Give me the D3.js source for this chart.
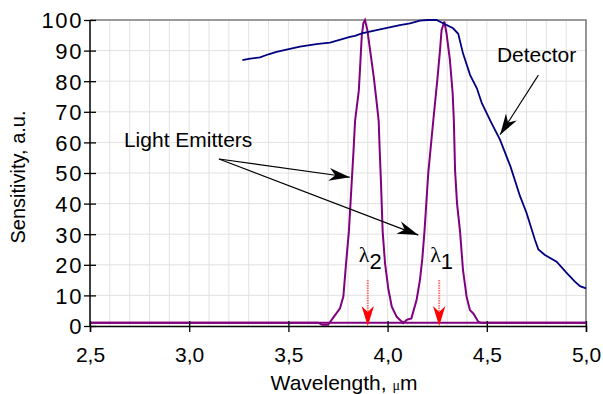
<!DOCTYPE html>
<html>
<head>
<meta charset="utf-8">
<script src="https://cdn.jsdelivr.net/npm/d3@7"></script>
<style>
  html, body { margin: 0; padding: 0; background: #fff; }
  svg { display: block; font-family: "Liberation Sans", Arial, sans-serif; }
</style>
</head>
<body>
<svg id="chart" width="603" height="394"></svg>
<script>
// ── data (wavelength in µm, sensitivity in a.u.) ──
const xTicks = [2.5, 3.0, 3.5, 4.0, 4.5, 5.0];
const yTicks = [0, 10, 20, 30, 40, 50, 60, 70, 80, 90, 100];

const detector = [
  [3.268, 86.9], [3.30, 87.3], [3.357, 87.8], [3.40, 88.8], [3.44, 89.6],
  [3.558, 91.3], [3.65, 92.2], [3.71, 92.6], [3.81, 94.5], [3.836, 94.8],
  [3.87, 95.6], [3.95, 96.8], [4.062, 98.3], [4.113, 98.9], [4.163, 99.8],
  [4.20, 100], [4.247, 100], [4.272, 99.2], [4.33, 97.3], [4.356, 95.5],
  [4.38, 89.1], [4.416, 82], [4.45, 77.7], [4.475, 72.8], [4.52, 66.8],
  [4.567, 60.8], [4.62, 52], [4.667, 42.5], [4.70, 37], [4.743, 28.1],
  [4.76, 25], [4.793, 23.2], [4.852, 21], [4.90, 17.5], [4.944, 14.5],
  [4.97, 13], [5.0, 12.3]
];

// emitter at lambda2
const emitter2 = [
  [2.5, 1.1], [3.65, 1.1], [3.67, 0.4], [3.70, 0.4], [3.727, 2.8],
  [3.76, 5.8], [3.777, 9.6], [3.79, 20], [3.805, 31], [3.82, 48],
  [3.828, 57], [3.836, 67], [3.855, 77], [3.861, 84], [3.865, 89],
  [3.87, 95], [3.878, 99], [3.886, 100], [3.898, 96.7], [3.91, 91],
  [3.93, 81.5], [3.945, 73], [3.955, 67], [3.961, 56], [3.966, 48],
  [3.975, 31], [3.987, 20.5], [4.004, 12], [4.021, 6.3], [4.046, 3.0],
  [4.07, 1.5], [4.09, 1.1], [5.0, 1.1]
];

// emitter at lambda1
const emitter1 = [
  [2.5, 1.1], [4.06, 1.1], [4.08, 0.9], [4.096, 2.0], [4.12, 2.5],
  [4.146, 8.5], [4.163, 15], [4.175, 22], [4.186, 31], [4.196, 41],
  [4.205, 50], [4.23, 67], [4.25, 80], [4.264, 90], [4.272, 96.7],
  [4.286, 99.5], [4.297, 95.6], [4.314, 87], [4.328, 76], [4.334, 67],
  [4.34, 51], [4.35, 40], [4.365, 31], [4.38, 18.3], [4.398, 9.6],
  [4.415, 5.2], [4.432, 4.1], [4.457, 1.4], [4.47, 1.1], [5.0, 1.1]
];

// annotations (data units)
const markers = [
  { label: "2", x: 3.90 },
  { label: "1", x: 4.26 }
];
const emitterArrows = [
  { from: [3.15, 54.6], to: [3.81, 48.6] },
  { from: [3.15, 54.6], to: [4.155, 29.7] }
];
const detectorArrow = { from: [4.76, 82], to: [4.567, 62.5] };

// ── layout ──
const svg = d3.select("#chart");
const margin = { top: 20, right: 17, bottom: 68, left: 90 };
const W = 603, H = 394;
const x = d3.scaleLinear().domain([2.5, 5.0]).range([margin.left, W - margin.right]);
const y = d3.scaleLinear().domain([0, 100]).range([H - margin.bottom, margin.top]);

// gridlines
const grid = svg.append("g").attr("stroke", "#e2e2e2").attr("stroke-width", 1);
grid.selectAll("line.v")
  .data(d3.range(26, 50).map(d => d / 10))
  .join("line")
    .attr("x1", d => x(d)).attr("x2", d => x(d))
    .attr("y1", y(0)).attr("y2", y(100));
grid.selectAll("line.h")
  .data(yTicks.filter(d => d > 0 && d < 100))
  .join("line")
    .attr("class", "h")
    .attr("x1", x(2.5)).attr("x2", x(5.0))
    .attr("y1", d => y(d)).attr("y2", d => y(d));

// plot frame: top and right in grey
svg.append("path")
  .attr("d", `M${x(2.5)},${y(100)}H${x(5.0)}V${y(0)}`)
  .attr("fill", "none")
  .attr("stroke", "#7a7a7a")
  .attr("stroke-width", 1.6);

// curves
const line = d3.line().x(d => x(d[0])).y(d => y(d[1]));
svg.append("path").datum(emitter2)
  .attr("d", line).attr("fill", "none")
  .attr("stroke", "#800080").attr("stroke-width", 2);
svg.append("path").datum(emitter1)
  .attr("d", line).attr("fill", "none")
  .attr("stroke", "#800080").attr("stroke-width", 2);
svg.append("path").datum(detector)
  .attr("d", line).attr("fill", "none")
  .attr("stroke", "#000080").attr("stroke-width", 1.8);

// axes
const xAxis = svg.append("g")
  .attr("transform", `translate(0,${y(0)})`)
  .call(d3.axisBottom(x).tickValues(xTicks).tickSize(6)
    .tickFormat(d => d3.format(".1f")(d).replace(".", ",")));
xAxis.select(".domain").attr("stroke", "#000").attr("stroke-width", 1.5);
xAxis.selectAll(".tick line").attr("y1", -5).attr("y2", 6).attr("stroke", "#000").attr("stroke-width", 1.3);
xAxis.selectAll(".tick text")
  .attr("y", 0).attr("dy", 36)
  .style("font-size", "21px").style("font-family", "Liberation Sans, Arial, sans-serif")
  .attr("fill", "#000");

const yAxis = svg.append("g")
  .attr("transform", `translate(${x(2.5)},0)`)
  .call(d3.axisLeft(y).tickValues(yTicks).tickSize(6));
yAxis.select(".domain").attr("stroke", "#000").attr("stroke-width", 1.5).attr("d", `M0,${y(0)}V${y(100)}`);
yAxis.selectAll(".tick line").attr("x1", -6).attr("x2", 6).attr("stroke", "#000").attr("stroke-width", 1.3);
yAxis.selectAll(".tick text")
  .attr("x", -7).attr("dy", "0.36em")
  .style("font-size", "22px").style("letter-spacing", "1.6px")
  .style("font-family", "Liberation Sans, Arial, sans-serif")
  .attr("fill", "#000");

// axis titles
svg.append("text")
  .attr("transform", `translate(25,${(y(0) + y(100)) / 2 + 4}) rotate(-90)`)
  .attr("text-anchor", "middle")
  .style("font-size", "20px")
  .text("Sensitivity, a.u.");

const xt = svg.append("text")
  .attr("x", (x(2.5) + x(5.0)) / 2 + 6)
  .attr("y", 390)
  .attr("text-anchor", "middle")
  .style("font-size", "21px");
xt.append("tspan").text("Wavelength, ");
xt.append("tspan").text("\u03bc").style("font-size", "14px").attr("dy", 0)
  .style("font-family", "Liberation Serif, serif");
xt.append("tspan").text("m");

// black arrows
function arrowHead(g, from, to, len, half, fill) {
  const ang = Math.atan2(to[1] - from[1], to[0] - from[0]) * 180 / Math.PI;
  g.append("path")
    .attr("d", `M0,0L${-len},${-half}L${-len * 0.7},0L${-len},${half}Z`)
    .attr("transform", `translate(${to[0]},${to[1]}) rotate(${ang})`)
    .attr("fill", fill);
}
const ann = svg.append("g");
emitterArrows.concat([detectorArrow]).forEach(a => {
  const p0 = [x(a.from[0]), y(a.from[1])], p1 = [x(a.to[0]), y(a.to[1])];
  ann.append("line")
    .attr("x1", p0[0]).attr("y1", p0[1]).attr("x2", p1[0]).attr("y2", p1[1])
    .attr("stroke", "#000").attr("stroke-width", 1.1);
  arrowHead(ann, p0, p1, 21, 6.5, "#000");
});

svg.append("text")
  .attr("x", x(2.671)).attr("y", y(58.5))
  .style("font-size", "21px")
  .text("Light Emitters");
svg.append("text")
  .attr("x", x(4.551)).attr("y", y(86.3))
  .style("font-size", "21px")
  .text("Detector");

// lambda markers
markers.forEach(m => {
  const cx = x(m.x);
  svg.append("line")
    .attr("x1", cx).attr("x2", cx)
    .attr("y1", y(15)).attr("y2", y(4))
    .attr("stroke", "#ff7070").attr("stroke-width", 2)
    .attr("stroke-dasharray", "1.5,1");
  arrowHead(svg, [cx, y(15)], [cx, y(0)], 20, 6.2, "#ff0000");
  const t = svg.append("text")
    .attr("x", cx - 9).attr("y", y(20.8))
    .style("font-size", "22px");
  t.append("tspan").text("\u03bb").style("font-family", "Liberation Serif, DejaVu Serif, serif");
  t.append("tspan").text(m.label).attr("dy", 7);
});
</script>
</body>
</html>
